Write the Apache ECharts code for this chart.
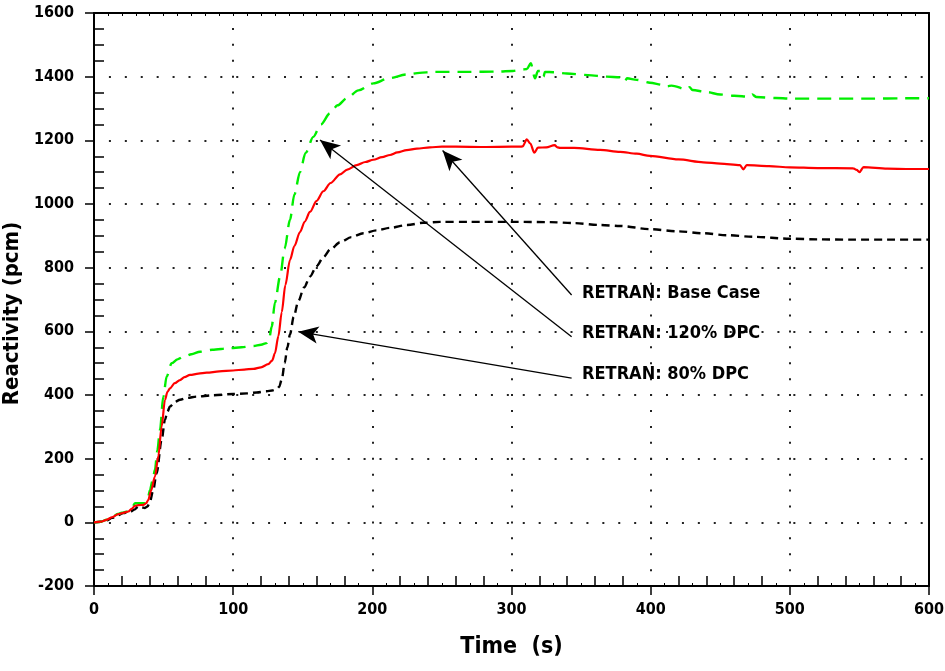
<!DOCTYPE html>
<html>
<head>
<meta charset="utf-8">
<title>Reactivity</title>
<script src="https://cdn.jsdelivr.net/npm/echarts@6/dist/echarts.min.js"></script>
<style>
  html, body { margin: 0; padding: 0; background: #ffffff; }
  #chart { width: 945px; height: 671px; }
</style>
</head>
<body>
<div id="chart"></div>
<script>
// RETRAN: Base Case (solid red)
const baseTime = [0,5,9,13,17.5,21,24.7,27,29.5,32,35.4,37.5,39,41,43.8,46.2,48.6,51,52.8,54.6,58,61.8,65,69,75,81,90,100,108,114.5,120,125.2,128,130,132.5,134.9,137.5,140.8,144,148,151.5,155.2,160,164.8,170,176.8,182,188.8,195,200.7,207,212.7,218,224.7,232,241.4,250,260,280,300,306,308,311,313.5,316.4,319,325,331,333,335,345,363.6,378,390,399.5,420,437.8,450,464.2,466.6,469,485,500,520,545.6,548,550,553,570,585,600];
const baseValue = [0,2,8,16,26,30,34,42,52,54,55,60,70,100,144,207,301,385,410,421,437,447,456,463,467,470,474,477,480,482,487,497,508,531,585,660,745,824,868,912,945,975,1010,1040,1066,1093,1108,1122,1132,1139,1147,1154,1162,1169,1174,1178,1180,1180,1179,1180,1180,1181,1203,1190,1161,1177,1178,1185,1178,1176,1176,1170,1164,1158,1151,1140,1131,1127,1122,1109,1122,1119,1115,1113,1112,1107,1100,1116,1111,1110,1110];

// RETRAN: 120% DPC (green dashed)
const dpc120Time = [0,5,9,13,17,20,24,27,29.5,33,36.6,38.5,40.2,42,43.8,45.5,47.4,49.8,52.2,55.8,60,64.2,70,76.2,85,97.7,106,114.5,120,124,126,127.7,130,133.7,137,140.8,144,148,152,157.6,163,169.6,175,181.6,190,200.7,212,224.7,234,243.8,268,290,301,307,311,313.8,316.9,319,321.6,323,324,330,339.7,355,368.4,378,380.3,381.6,383,390,399.5,409,412,415,425.9,428,430,440,450,460,471.4,473,476,490,500,530,560,580,600];
const dpc120Value = [0,2,8,16,26,30,34,44,60,60,60,70,102,130,165,225,290,395,458,500,512,520,528,536,542,547,550,554,558,563,580,615,690,772,860,950,1030,1100,1160,1211,1250,1285,1310,1332,1357,1379,1395,1407,1412,1415,1415,1416,1418,1422,1424,1442,1395,1418,1418,1400,1415,1414,1410,1405,1400,1398,1397,1387,1395,1390,1381,1374,1370,1372,1360,1367,1358,1352,1344,1340,1337,1344,1336,1333,1331,1331,1331,1332,1332];

// RETRAN: 80% DPC (black dashed)
const dpc80Time = [0,5,9,13,17,21,26,29,31.9,34,36.6,38.5,40.2,42.5,45,48.6,51,52.8,54.6,58,61.8,67,73.8,85,100,110,116.9,124,128,131.3,133,135,137,139,140.8,143.5,146.8,151,155.2,160,164.8,170,176.8,185,193.5,203,212.7,225,236.6,248.6,270,300,328,345,363.6,378,399.5,420,437.8,455,473.8,500,520,545.6,570,600];
const dpc80Value = [0,2,6,14,22,29,33,40,50,47,45,50,65,100,154,259,322,348,364,378,385,391,395,399,403,405,408,412,414,418,425,450,500,550,590,645,695,738,772,805,833,858,880,896,908,917,925,934,941,944,944,944,943,940,934,931,921,914,908,902,897,891,889,888,888,888];

// Annotation text, where each label sits, and where its arrow points
const labelText = ['RETRAN: Base Case', 'RETRAN: 120% DPC', 'RETRAN: 80% DPC'];
const labelAt = [[350.7, 720], [350.7, 594], [350.7, 466]];
const arrowFrom = [[343.2, 714], [343.2, 583], [343.2, 453]];
const arrowTo = [[250.5, 1168], [162.4, 1201], [146.8, 599]];

const xTicks = { min: 0, max: 600, step: 100 };
const yTicks = { min: -200, max: 1600, step: 200 };

const FONT = "'DejaVu Sans Condensed', 'Liberation Sans Narrow', 'Liberation Sans', sans-serif";

function pairs(t, v) { return t.map((x, i) => [x, v[i]]); }

function arrow(i) {
  return [
    { coord: arrowFrom[i], symbol: 'none' },
    { coord: arrowTo[i], symbol: 'arrow', symbolSize: [13, 20] }
  ];
}

const arrowLine = (i) => ({
  silent: true,
  animation: false,
  symbol: ['none', 'arrow'],
  lineStyle: { color: '#000', width: 1.3, type: 'solid', opacity: 1 },
  itemStyle: { color: '#000', opacity: 1 },
  label: { show: false },
  emphasis: { disabled: true },
  data: [arrow(i)]
});

const plainAxisLine = { show: true, onZero: false, lineStyle: { color: '#000', width: 2 } };
const hiddenAxisLine = { show: false, onZero: false };
const plainNumber = (v) => String(v);

const chart = echarts.init(document.getElementById('chart'), null, { renderer: 'canvas' });

chart.setOption({
  animation: false,
  backgroundColor: '#ffffff',
  grid: { left: 94, top: 13, width: 835, height: 573, containLabel: false, outerBoundsMode: 'none' },
  xAxis: [
    {
      type: 'value', position: 'bottom',
      min: xTicks.min, max: xTicks.max, interval: xTicks.step,
      axisLine: plainAxisLine,
      axisTick: { show: true, inside: false, length: 9, lineStyle: { color: '#000', width: 1.5 } },
      axisLabel: { show: true, margin: 16, color: '#000', fontFamily: FONT, fontWeight: 'bold', fontSize: 16, formatter: plainNumber },
      splitLine: { show: true, lineStyle: { color: '#222', width: 2, type: [2, 13.92], dashOffset: 1 } },
      name: 'Time  (s)', nameLocation: 'middle', nameGap: 50,
      nameTextStyle: { color: '#000', fontFamily: FONT, fontWeight: 'bold', fontSize: 23 }
    },
    {
      type: 'value', position: 'bottom',
      min: xTicks.min, max: xTicks.max, interval: xTicks.step,
      axisLine: hiddenAxisLine,
      axisTick: { show: false, inside: true },
      minorTick: { show: true, splitNumber: 5, length: 10, lineStyle: { color: '#000', width: 1.5 } },
      axisLabel: { show: false }, splitLine: { show: false }
    },
    {
      type: 'value', position: 'bottom',
      min: xTicks.min, max: xTicks.max, interval: 20,
      axisLine: hiddenAxisLine,
      axisTick: { show: false, inside: true },
      minorTick: { show: true, splitNumber: 2, length: 3, lineStyle: { color: '#000', width: 1 } },
      axisLabel: { show: false }, splitLine: { show: false }
    },
    {
      type: 'value', position: 'top',
      min: xTicks.min, max: xTicks.max, interval: 10,
      axisLine: plainAxisLine,
      axisTick: { show: true, inside: true, length: 3, lineStyle: { color: '#000', width: 1 } },
      axisLabel: { show: false }, splitLine: { show: false }
    }
  ],
  yAxis: [
    {
      type: 'value', position: 'left',
      min: yTicks.min, max: yTicks.max, interval: yTicks.step,
      axisLine: plainAxisLine,
      axisTick: { show: true, inside: false, length: 9, lineStyle: { color: '#000', width: 1.5 } },
      axisLabel: { show: true, margin: 20, color: '#000', fontFamily: FONT, fontWeight: 'bold', fontSize: 16, formatter: plainNumber },
      splitLine: { show: true, lineStyle: { color: '#222', width: 2, type: [2, 13.917], dashOffset: 1 } },
      name: 'Reactivity (pcm)', nameLocation: 'middle', nameGap: 66, nameRotate: 90,
      nameTextStyle: { color: '#000', fontFamily: FONT, fontWeight: 'bold', fontSize: 22, padding: [0, 28, 0, 0] }
    },
    {
      type: 'value', position: 'left',
      min: yTicks.min, max: yTicks.max, interval: yTicks.step,
      axisLine: hiddenAxisLine,
      axisTick: { show: false, inside: true },
      minorTick: { show: true, splitNumber: 4, length: 10, lineStyle: { color: '#000', width: 1.5 } },
      axisLabel: { show: false }, splitLine: { show: false }
    },
    {
      type: 'value', position: 'right',
      min: yTicks.min, max: yTicks.max, interval: yTicks.step,
      axisLine: plainAxisLine,
      axisTick: { show: false }, axisLabel: { show: false }, splitLine: { show: false }
    }
  ],
  series: [
    {
      name: 'RETRAN: 80% DPC', type: 'line', xAxisIndex: 0, yAxisIndex: 0,
      data: pairs(dpc80Time, dpc80Value), showSymbol: false, smooth: 0.3, smoothMonotone: 'x',
      lineStyle: { color: '#000000', width: 2.4, type: [8, 5] },
      markLine: arrowLine(2), z: 3
    },
    {
      name: 'RETRAN: 120% DPC', type: 'line', xAxisIndex: 0, yAxisIndex: 0,
      data: pairs(dpc120Time, dpc120Value), showSymbol: false, smooth: 0.3, smoothMonotone: 'x',
      lineStyle: { color: '#00ee00', width: 2.4, type: [14, 8] },
      markLine: arrowLine(1), z: 3
    },
    {
      name: 'RETRAN: Base Case', type: 'line', xAxisIndex: 0, yAxisIndex: 0,
      data: pairs(baseTime, baseValue), showSymbol: false, smooth: 0.3, smoothMonotone: 'x',
      lineStyle: { color: '#ff0000', width: 2.2 },
      markLine: arrowLine(0), z: 4
    },
    {
      name: 'labels', type: 'scatter', xAxisIndex: 0, yAxisIndex: 0,
      symbolSize: 0, silent: true,
      itemStyle: { opacity: 1 },
      data: labelAt.map((p, i) => [p[0], p[1], labelText[i]]),
      label: {
        show: true, position: 'right', distance: 0, opacity: 1,
        formatter: (p) => p.value[2],
        color: '#000000', textBorderWidth: 0, fontFamily: FONT, fontWeight: 'bold', fontSize: 18
      },
      z: 5
    }
  ]
});
</script>
</body>
</html>
